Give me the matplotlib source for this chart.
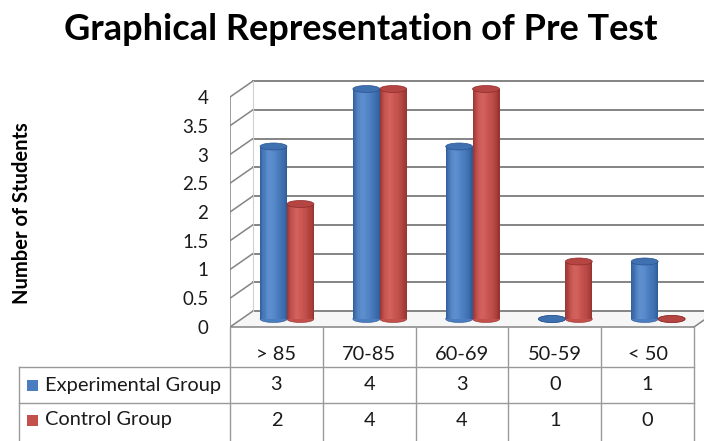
import numpy as np
import matplotlib
matplotlib.use("Agg")
import matplotlib.pyplot as plt
from matplotlib.patches import Ellipse, Rectangle, Polygon
from matplotlib import transforms
from matplotlib.colors import to_rgb

# ---------------- data ----------------
categories = ["> 85", "70-85", "60-69", "50-59", "< 50"]
experimental = [3, 4, 3, 0, 1]
control = [2, 4, 4, 1, 0]
series_names = ["Experimental Group", "Control Group"]
yticks = [0, 0.5, 1, 1.5, 2, 2.5, 3, 3.5, 4]
ytick_labels = ["0", "0.5", "1", "1.5", "2", "2.5", "3", "3.5", "4"]
title = "Graphical Representation of Pre Test"
ylabel = "Number of Students"

# ---------------- style ----------------
FONT = "Lato"
W, H = 704, 441
DPI = 100
blue = dict(dark="#2a5490", mid="#4a7ec0", light="#6e9edb", top="#3f70b0")
red = dict(dark="#8e2c2a", mid="#c4504c", light="#e06f6a", top="#b44542")
grid_col = "#848484"

fig = plt.figure(figsize=(W / DPI, H / DPI), dpi=DPI)
fig.patch.set_facecolor("white")

# pixel mapping of the front plane: x=0 -> 230px, 1 category = 92.8px; y=0 -> 327px, 1 unit = 57.5px
PX0, PXU = 230.0, 92.8
PY0, PYU = 327.0, 57.5
xlim = (0.0, 5.3)
ylim = (-0.2, 4.5)
left = (PX0 + PXU * xlim[0]) / W
right = (PX0 + PXU * xlim[1]) / W
bottom = (H - (PY0 - PYU * ylim[0])) / H
top = (H - (PY0 - PYU * ylim[1])) / H
ax = fig.add_axes([left, bottom, right - left, top - bottom])
ax.set_xlim(*xlim)
ax.set_ylim(*ylim)
for s in ax.spines.values():
    s.set_visible(False)
ax.set_xticks([])
ax.set_yticks(yticks)
ax.set_yticklabels(ytick_labels, fontfamily=FONT, fontsize=13.5, color="#1a1a1a")
ax.tick_params(axis="y", length=0, pad=15.5)
ax.patch.set_alpha(0)

# depth offset (front -> back wall) in data units
DX = 23.0 / PXU
DY = 16.0 / PYU
n = len(categories)
ymax = max(yticks)

# back wall gridlines
for v in yticks:
    ax.plot([DX, n + DX], [v + DY, v + DY], color=grid_col, lw=1.4, zorder=1)
    # left wall diagonals
    ax.plot([0, DX], [v, v + DY], color=grid_col, lw=1.1, zorder=1)
# left wall edges
ax.plot([0, 0], [0, ymax], color=grid_col, lw=1.1, zorder=1)
ax.plot([DX, DX], [DY, ymax + DY], color="#d0d0d0", lw=0.8, zorder=1)
# floor
floor = Polygon([(0, 0), (n, 0), (n + DX, DY), (DX, DY)], closed=True,
                facecolor="#f6f6f6", edgecolor="none", zorder=0.5)
ax.add_patch(floor)
ax.plot([0, n], [0, 0], color=grid_col, lw=1.1, zorder=1)
ax.plot([n, n + DX], [0, DY], color=grid_col, lw=1.1, zorder=1)


def shade(cols, t):
    d, m, l = (np.array(to_rgb(cols[k])) for k in ("dark", "mid", "light"))
    # light source slightly left of centre
    s = np.sin(np.pi * np.clip(t, 0, 1)) ** 0.6
    peak = np.exp(-((t - 0.35) / 0.22) ** 2)
    c = d + (m - d) * s
    c = c + (l - c) * 0.55 * peak
    return np.clip(c, 0, 1)


BW = 0.29
ELL_H = 7.0 / PYU
NSTRIP = 24


def cylinder(x0, value, cols):
    xb = x0 + DX / 2
    yb = DY / 2
    xc = xb + BW / 2
    # bottom cap
    ax.add_patch(Ellipse((xc, yb), BW, ELL_H, facecolor=cols["mid"], edgecolor=cols["dark"],
                         lw=0.4, zorder=3))
    if value > 0:
        edges = np.linspace(xb, xb + BW, NSTRIP + 1)
        ts = (np.arange(NSTRIP) + 0.5) / NSTRIP
        colors = [shade(cols, t) for t in ts]
        ax.bar(edges[:-1], [value] * NSTRIP, width=BW / NSTRIP * 1.02, bottom=yb,
               align="edge", color=colors, edgecolor="none", linewidth=0, zorder=4)
    ax.add_patch(Ellipse((xc, yb + value), BW, ELL_H, facecolor=cols["top"],
                         edgecolor=cols["dark"], lw=0.5, zorder=5))


for i in range(n):
    cylinder(i + 0.2, experimental[i], blue)
    cylinder(i + 0.2 + BW, control[i], red)

# ---------------- data table ----------------
bt = transforms.blended_transform_factory(ax.transData, fig.transFigure)
fy = lambda px: 1 - px / H
fx = lambda px: px / W
header_top = fy(PY0)
row1 = fy(367)
row2 = fy(403)
tcol = "#9a9a9a"
for i in range(n + 1):
    ax.plot([i, i], [0, header_top], transform=bt, color=tcol, lw=1.0, clip_on=False)
fig.add_artist(plt.Line2D([fx(19), fx(PX0 + PXU * n)], [row1, row1], color=tcol, lw=1.0))
fig.add_artist(plt.Line2D([fx(19), fx(PX0 + PXU * n)], [row2, row2], color=tcol, lw=1.0))
fig.add_artist(plt.Line2D([fx(19), fx(19)], [0, row1], color=tcol, lw=1.0))

tfs = 14.4
for i, c in enumerate(categories):
    ax.text(i + 0.5, fy(355), c, transform=bt, ha="center", va="center",
            fontfamily=FONT, fontsize=tfs, color="#1a1a1a")
for r, (vals, cols, yc) in enumerate([(experimental, blue, fy(385)), (control, red, fy(420))]):
    for i, v in enumerate(vals):
        ax.text(i + 0.5, yc, f"{v:g}", transform=bt, ha="center", va="center",
                fontfamily=FONT, fontsize=tfs, color="#1a1a1a")
    fig.add_artist(Rectangle((fx(27), yc - 5.5 / H), 11 / W, 11 / H, transform=fig.transFigure,
                             facecolor=cols["mid"], edgecolor="none"))
    fig.text(fx(45), yc, series_names[r], ha="left", va="center",
             fontfamily=FONT, fontsize=tfs, color="#1a1a1a")

# ---------------- titles ----------------
fig.text(fx(361), fy(29), title, ha="center", va="center", fontfamily=FONT,
         fontweight="bold", fontsize=26, color="black")
fig.text(fx(22), fy(213), ylabel, ha="center", va="center", rotation=90,
         fontfamily=FONT, fontweight="bold", fontsize=14.5, color="black")

fig.savefig("out.png", dpi=DPI, facecolor="white")
